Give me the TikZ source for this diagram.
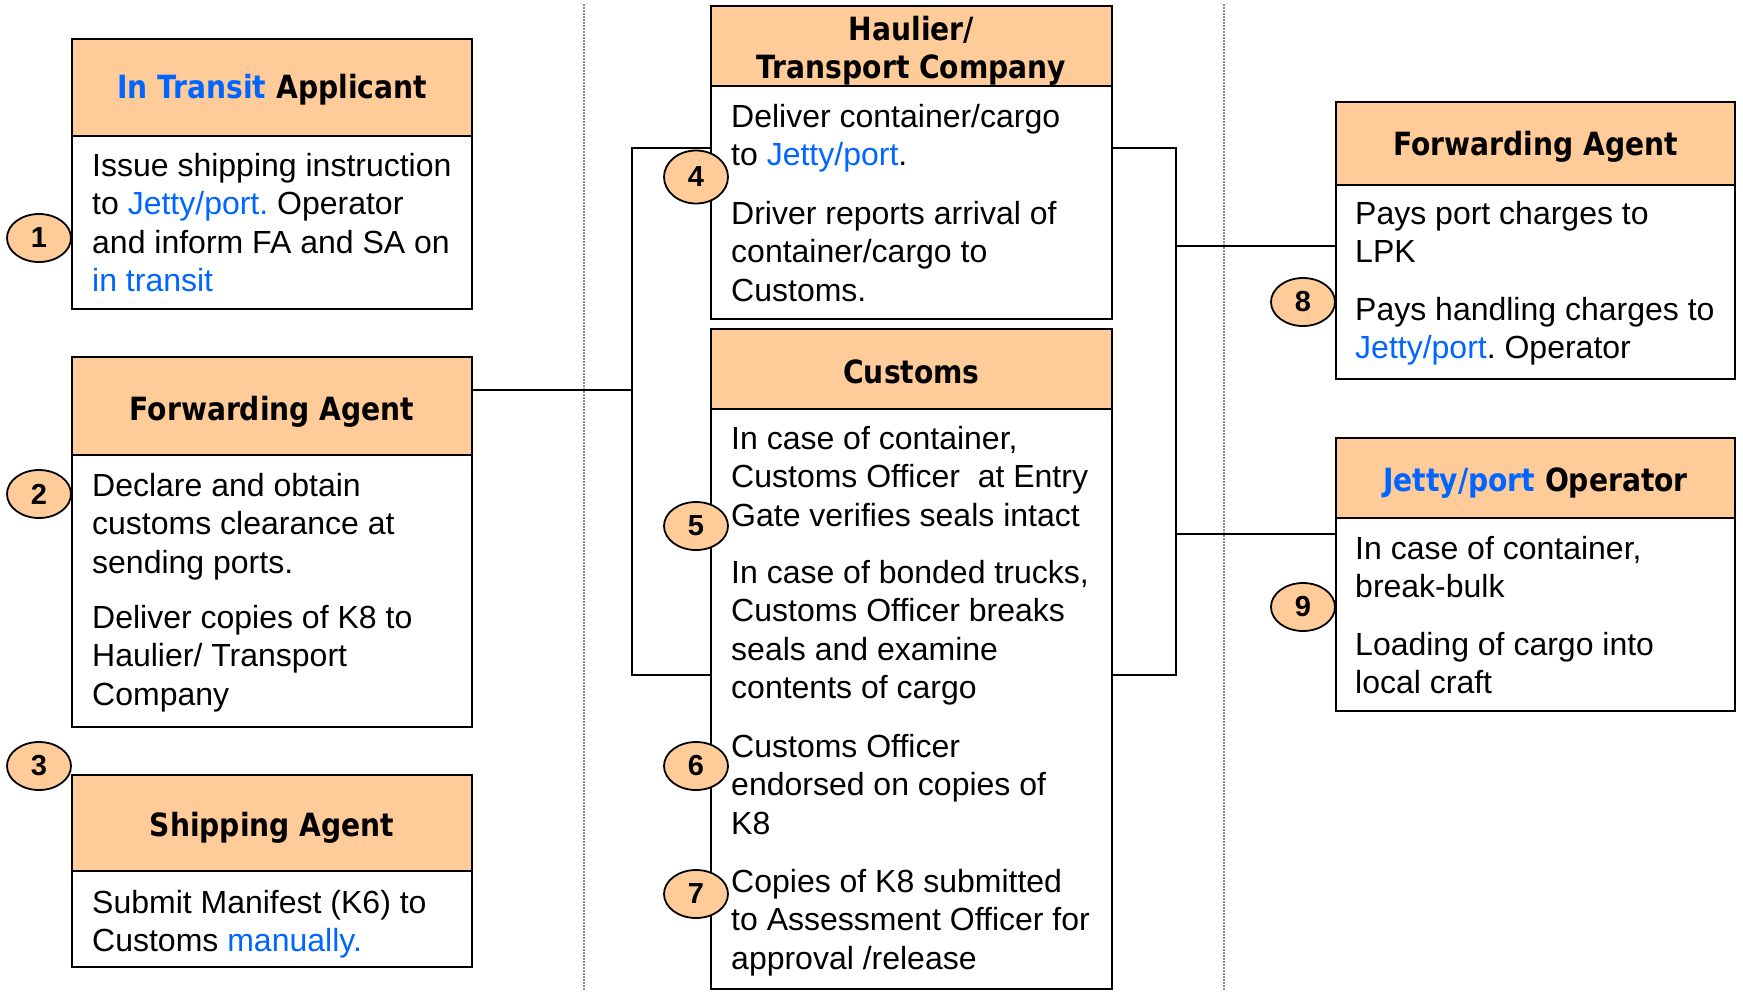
\documentclass[tikz,border=0pt]{standalone}
\usepackage{fontspec}
\setmainfont{Liberation Sans}
\newfontfamily\hdfont{DejaVu Sans}[FakeStretch=0.88]
\usetikzlibrary{shapes.geometric}
\definecolor{hdr}{HTML}{FFCC99}
\definecolor{lnk}{HTML}{0066FF}
\definecolor{dotc}{HTML}{8C8C8C}
\newcommand{\bl}[1]{\textcolor{lnk}{#1}}
\frenchspacing
\begin{document}
\begin{tikzpicture}[x=1pt,y=-1pt,
  hd/.style={draw=black, line width=2pt, fill=hdr, inner sep=0pt},
  bd/.style={draw=black, line width=2pt, fill=white, inner sep=0pt},
  conn/.style={draw=black, line width=2pt},
  sep/.style={draw=dotc, line width=1.3pt, dash pattern=on 1.5pt off 1.5pt},
  htxt/.style={anchor=base, inner sep=0pt, font=\hdfont\bfseries\fontsize{32}{38}\selectfont},
  txt/.style={anchor=north west, align=left, inner sep=0pt, yshift=22.8pt, font=\fontsize{32}{38.3}\selectfont},
  num/.style={ellipse, draw=black, line width=1.8pt, fill=hdr, inner sep=0pt, minimum width=64pt, minimum height=48pt, font=\bfseries\fontsize{29}{30}\selectfont}
]
\useasboundingbox (0,0) rectangle (1743,991);
% separators
\draw[sep] (584,4) -- (584,991);
\draw[sep] (1224,4) -- (1224,991);
% left boxes
\node[hd, minimum width=400pt, minimum height=97pt] (b1h) at (272,87.5) {};
\node[bd, minimum width=400pt, minimum height=173pt] (b1b) at (272,222.5) {};
\node[hd, minimum width=400pt, minimum height=98pt] (b2h) at (272,406) {};
\node[bd, minimum width=400pt, minimum height=272pt] (b2b) at (272,591) {};
\node[hd, minimum width=400pt, minimum height=96pt] (b3h) at (272,823) {};
\node[bd, minimum width=400pt, minimum height=96pt] (b3b) at (272,919) {};
% centre boxes
\node[hd, minimum width=401pt, minimum height=80pt] (hh) at (911.5,46) {};
\node[bd, minimum width=401pt, minimum height=233pt] (hb) at (911.5,202.5) {};
\node[hd, minimum width=401pt, minimum height=80pt] (ch) at (911.5,369) {};
\node[bd, minimum width=401pt, minimum height=580pt] (cb) at (911.5,699) {};
% right boxes
\node[hd, minimum width=399pt, minimum height=83pt] (fh) at (1535.5,143.5) {};
\node[bd, minimum width=399pt, minimum height=194pt] (fb) at (1535.5,282) {};
\node[hd, minimum width=399pt, minimum height=80pt] (jh) at (1535.5,478) {};
\node[bd, minimum width=399pt, minimum height=193pt] (jb) at (1535.5,614.5) {};
% connector coordinates
\coordinate (LT) at (632,148);
\coordinate (LB) at (632,675);
\coordinate (LM) at (632,390);
\coordinate (RT) at (1176,148);
\coordinate (RB) at (1176,675);
\coordinate (R1) at (1176,246);
\coordinate (R2) at (1176,534);
\draw[conn] (LM -| b2h.east) -- (LM);
\draw[conn] (LT -| hb.west) -- (LT) -- (LB) -- (LB -| cb.west);
\draw[conn] (RT -| hb.east) -- (RT) -- (RB) -- (RB -| cb.east);
\draw[conn] (R1) -- (R1 -| fb.west);
\draw[conn] (R2) -- (R2 -| jb.west);
% header texts
\node[htxt] (t1h) at (272,98) {\bl{In Transit} Applicant};
\node[htxt] (t2h) at (272,420) {Forwarding Agent};
\node[htxt] (t3h) at (272,836) {Shipping Agent};
\node[htxt, anchor=north, align=center, yshift=23pt] (thh) at (911.5,39) {Haulier/\\Transport Company};
\node[htxt] (tch) at (911.5,383) {Customs};
\node[htxt] (tfh) at (1535.5,155) {Forwarding Agent};
\node[htxt] (tjh) at (1535.5,491) {\bl{Jetty/port} Operator};
% body texts
\node[txt] (p1) at (92,176) {Issue shipping instruction\\to \bl{Jetty/port.} Operator\\and inform FA and SA on\\\bl{in transit}};
\node[txt] (p2a) at (92,496) {Declare and obtain\\customs clearance at\\sending ports.};
\node[txt] (p2b) at (92,628) {Deliver copies of K8 to\\Haulier/ Transport\\Company};
\node[txt] (p3) at (92,913) {Submit Manifest (K6) to\\Customs \bl{manually.}};
\node[txt] (p4a) at (731,127) {Deliver container/cargo\\to \bl{Jetty/port}.};
\node[txt] (p4b) at (731,224) {Driver reports arrival of\\container/cargo to\\Customs.};
\node[txt] (p5a) at (731,449) {In case of container,\\Customs Officer\ \ at Entry\\Gate verifies seals intact};
\node[txt] (p5b) at (731,583) {In case of bonded trucks,\\Customs Officer breaks\\seals and examine\\contents of cargo};
\node[txt] (p6) at (731,757) {Customs Officer\\endorsed on copies of\\K8};
\node[txt] (p7) at (731,892) {Copies of K8 submitted\\to Assessment Officer for\\approval /release};
\node[txt] (p8a) at (1355,224) {Pays port charges to\\LPK};
\node[txt] (p8b) at (1355,320) {Pays handling charges to\\\bl{Jetty/port}. Operator};
\node[txt] (p9a) at (1355,559) {In case of container,\\break-bulk};
\node[txt] (p9b) at (1355,655) {Loading of cargo into\\local craft};
% step numbers
\node[num] (n1) at (39,238) {1};
\node[num] (n2) at (39,494) {2};
\node[num] (n3) at (39,766) {3};
\node[num, minimum height=53pt] (n4) at (696,177) {4};
\node[num] (n5) at (696,526) {5};
\node[num] (n6) at (696,766) {6};
\node[num] (n7) at (696,894) {7};
\node[num] (n8) at (1303,302) {8};
\node[num] (n9) at (1303,607) {9};
\end{tikzpicture}
\end{document}
